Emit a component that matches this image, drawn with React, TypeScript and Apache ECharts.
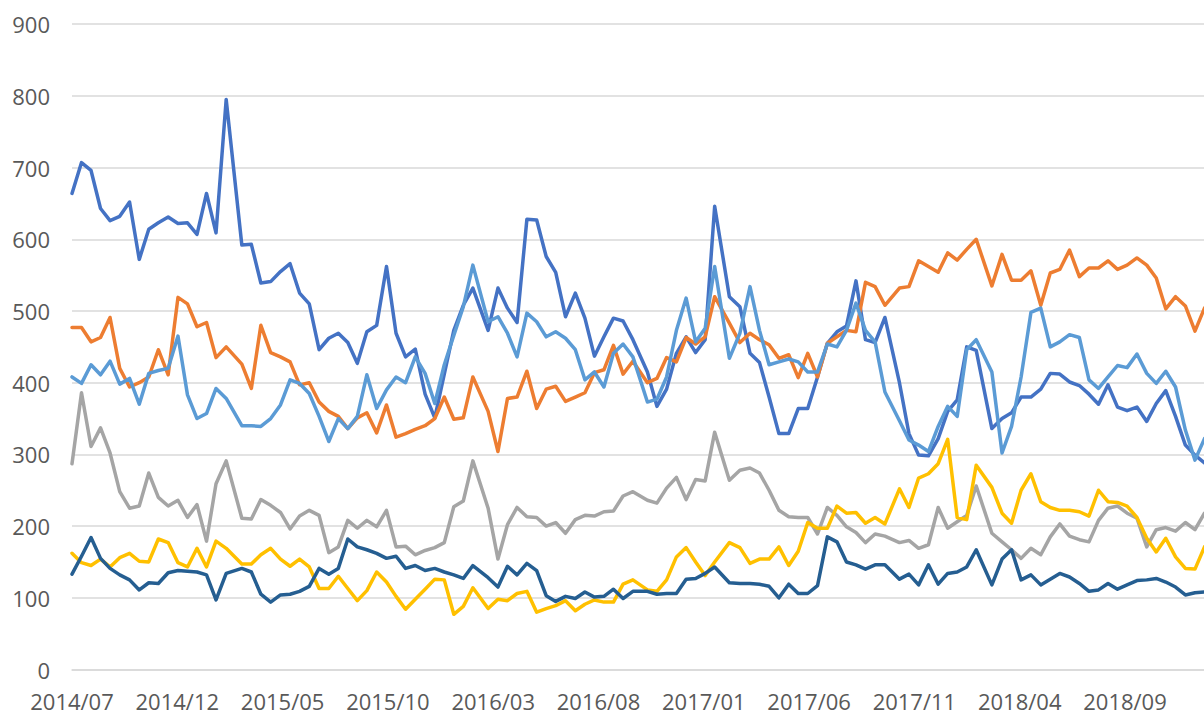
import React, { useEffect, useRef } from "react";
import * as echarts from "echarts";

const tickLabels = ["2014/07", "2014/12", "2015/05", "2015/10", "2016/03", "2016/08", "2017/01", "2017/06", "2017/11", "2018/04", "2018/09"];

const dates = [
  "2014-07-01", "2014-07-15", "2014-07-29", "2014-08-12", "2014-08-26", "2014-09-09", "2014-09-23", "2014-10-07", "2014-10-21", "2014-11-04", "2014-11-18", "2014-12-02", "2014-12-16", "2014-12-30", "2015-01-13", "2015-01-27", "2015-02-10",
  "2015-03-03", "2015-03-17", "2015-03-31", "2015-04-14", "2015-04-28", "2015-05-12", "2015-05-26", "2015-06-09", "2015-06-23", "2015-07-07", "2015-07-21", "2015-08-04", "2015-08-18", "2015-09-01", "2015-09-15", "2015-09-29", "2015-10-13", "2015-10-27", "2015-11-10", "2015-11-24", "2015-12-08", "2015-12-22", "2016-01-05", "2016-01-19", "2016-02-02",
  "2016-02-23", "2016-03-08", "2016-03-22", "2016-04-05", "2016-04-19", "2016-05-03", "2016-05-17", "2016-05-31", "2016-06-14", "2016-06-28", "2016-07-12", "2016-07-26", "2016-08-09", "2016-08-23", "2016-09-06", "2016-09-20",
  "2016-10-11", "2016-10-25", "2016-11-08", "2016-11-22", "2016-12-06", "2016-12-20", "2017-01-03", "2017-01-17",
  "2017-02-07", "2017-02-21", "2017-03-07", "2017-03-21", "2017-04-04", "2017-04-18", "2017-05-02", "2017-05-16", "2017-05-30", "2017-06-13", "2017-06-27", "2017-07-11", "2017-07-25", "2017-08-08", "2017-08-22", "2017-09-05", "2017-09-19",
  "2017-10-10", "2017-10-24", "2017-11-07", "2017-11-21", "2017-12-05", "2017-12-19", "2018-01-02", "2018-01-16", "2018-01-30",
  "2018-02-20", "2018-03-06", "2018-03-20", "2018-04-03", "2018-04-17", "2018-05-01", "2018-05-15", "2018-05-29", "2018-06-12", "2018-06-26", "2018-07-10", "2018-07-24", "2018-08-07", "2018-08-21", "2018-09-04", "2018-09-18", "2018-10-02", "2018-10-16", "2018-10-30", "2018-11-13", "2018-11-27", "2018-12-11", "2018-12-25",
];

const series1 = [
  664, 707, 696, 643, 626, 632, 652, 572, 614, 623, 631, 622, 623, 607, 664, 609, 795,
  592, 593, 539, 541, 555, 566, 525,
  510, 446, 462, 469, 456, 427, 471, 480, 562, 469, 436, 447, 384, 351, 412, 473, 508, 532,
  473, 532, 504, 484, 628, 627, 576, 554, 492, 525, 490, 437,
  464, 490, 486, 460, 415, 367, 391, 441, 464, 442, 460, 646,
  520, 506, 441, 428, 380, 329, 329, 364, 364, 408, 455, 471, 479, 542, 460, 456, 491,
  400, 329, 299, 298, 322, 360, 376, 450, 445,
  336, 350, 358, 380, 380, 391, 413, 412, 401, 396, 384, 370, 397, 366, 361, 366, 346, 371, 389, 353, 313, 299, 288,
];

const series2 = [
  477, 477, 457, 463, 491, 420, 394, 400, 408, 446, 411, 519, 510, 478, 484, 435, 450,
  426, 392, 480, 442, 436, 429, 397,
  400, 373, 360, 353, 336, 351, 358, 330, 369, 324, 329, 335, 340, 350, 380, 349, 351, 408,
  360, 304, 378, 380, 416, 364, 391, 395, 374, 380, 386, 414,
  418, 452, 412, 430, 400, 406, 435, 429, 463, 454, 464, 520,
  483, 456, 469, 460, 453, 434, 439, 407, 441, 408, 455, 464, 473, 471, 540, 534, 508,
  532, 534, 570, 562, 554, 581, 571, 586, 600,
  535, 579, 543, 543, 556, 508, 553, 558, 585, 548, 560, 560, 570, 558, 564, 574, 564, 546, 503, 520, 507, 472, 504,
];

const series3 = [
  287, 386, 311, 337, 302, 248, 225, 228, 274, 240, 228, 236, 212, 230, 179, 259, 291,
  211, 210, 237, 229, 219, 196, 214,
  222, 215, 163, 171, 208, 197, 208, 199, 222, 171, 172, 160, 166, 170, 177, 227, 235, 291,
  225, 154, 202, 226, 213, 212, 200, 205, 190, 209, 215, 214,
  220, 221, 242, 248, 236, 232, 253, 268, 237, 265, 263, 331,
  264, 278, 281, 274, 250, 222, 213, 212, 212, 189, 226, 215, 199, 191, 177, 189, 186,
  177, 180, 169, 174, 226, 197, 206, 215, 256,
  190, 178, 167, 155, 169, 160, 185, 203, 186, 181, 178, 208, 225, 228, 218, 211, 171, 195, 198, 193, 205, 195, 218,
];

const series4 = [
  162, 149, 145, 154, 143, 156, 162, 151, 150, 182, 177, 149, 143, 169, 143, 179, 169,
  147, 147, 160, 169, 154, 144, 154,
  143, 113, 113, 130, 113, 96, 110, 136, 122, 102, 84, 98, 112, 126, 125, 77, 88, 114,
  85, 98, 96, 106, 109, 80, 85, 89, 96, 82, 91, 97,
  94, 94, 119, 125, 111, 109, 125, 157, 170, 150, 131, 150,
  177, 170, 148, 154, 154, 171, 145, 165, 205, 197, 197, 228, 218, 219, 204, 212, 203,
  252, 226, 267, 273, 287, 321, 212, 209, 285,
  254, 218, 204, 250, 273, 234, 226, 222, 222, 220, 214, 250, 234, 233, 228, 212, 183, 164, 183, 157, 141, 140, 171,
];

const series5 = [
  408, 399, 425, 411, 430, 398, 406, 370, 413, 417, 420, 465, 383, 350, 357, 392, 378,
  340, 340, 339, 350, 369, 404, 399,
  385, 353, 318, 350, 336, 353, 411, 364, 390, 408, 400, 436, 413, 371, 425, 466, 506, 564,
  485, 492, 469, 436, 497, 485, 464, 471, 462, 446, 404, 415,
  394, 441, 454, 436, 373, 377, 408, 473, 518, 457, 476, 562,
  434, 469, 534, 473, 425, 429, 433, 429, 415, 415, 454, 450, 473, 511, 473, 457, 387,
  347, 320, 313, 304, 339, 367, 353, 446, 460,
  415, 302, 339, 408, 498, 504, 450, 457, 467, 463, 404, 392, 408, 424, 421, 440, 413, 399, 416, 394, 334, 292, 322,
];

const series6 = [
  133, 158, 184, 155, 141, 132, 125, 111, 121, 120, 135, 138, 137, 136, 132, 97, 134,
  141, 136, 105, 94, 104, 105, 109,
  116, 141, 133, 141, 182, 171, 167, 162, 155, 158, 141, 145, 138, 141, 136, 132, 127, 145,
  128, 115, 144, 132, 148, 138, 103, 95, 102, 99, 108, 101,
  102, 112, 99, 109, 109, 105, 106, 106, 126, 127, 134, 143,
  121, 120, 120, 119, 116, 100, 119, 106, 106, 117, 185, 178, 150, 146, 140, 146, 146,
  126, 133, 118, 146, 119, 134, 136, 143, 167,
  118, 154, 167, 125, 132, 118, 126, 134, 129, 120, 109, 111, 120, 112, 118, 124, 125, 127, 122, 115, 104, 107, 108,
];

const seriesList = [
  { name: "Series 1", values: series1, color: "#4472C4" },
  { name: "Series 2", values: series2, color: "#ED7D31" },
  { name: "Series 3", values: series3, color: "#A5A5A5" },
  { name: "Series 4", values: series4, color: "#FFC000" },
  { name: "Series 5", values: series5, color: "#5B9BD5" },
  { name: "Series 6", values: series6, color: "#255E91" },
];

// months elapsed since 2014-07-01 (fractional)
function toMonths(s: string): number {
  const [y, m, d] = s.split("-").map(Number);
  const dim = new Date(y, m, 0).getDate();
  return (y - 2014) * 12 + (m - 7) + (d - 1) / dim;
}

const FONT = "'Open Sans', 'Liberation Sans', sans-serif";
const CHART_W = 1220;

export default function App() {
  const ref = useRef<HTMLDivElement>(null);
  useEffect(() => {
    const el = ref.current;
    if (!el) return;
    const chart = echarts.init(el, undefined, { renderer: "svg" });
    const xs = dates.map(toMonths);
    const option = {
      animation: false,
      backgroundColor: "#ffffff",
      grid: { left: 72, right: 0, top: 24.2, bottom: 44.5, containLabel: false },
      xAxis: {
        type: "value",
        min: 0,
        max: (CHART_W - 72) / 21.06,
        interval: 5,
        axisLine: { show: true, onZero: true, lineStyle: { color: "#d9d9d9", width: 1.5 } },
        axisTick: { show: false },
        splitLine: { show: false },
        axisLabel: {
          show: true,
          margin: 20,
          color: "#595959",
          fontFamily: FONT,
          fontSize: 22,
          showMinLabel: true,
          showMaxLabel: false,
          formatter: (v: number) => {
            const r = Math.round(v);
            if (Math.abs(v - r) > 1e-6 || r % 5 !== 0) return "";
            return tickLabels[r / 5] ?? "";
          },
        },
      },
      yAxis: {
        type: "value",
        min: 0,
        max: 900,
        interval: 100,
        axisLine: { show: false },
        axisTick: { show: false },
        splitLine: { show: true, lineStyle: { color: "#d9d9d9", width: 1.5 } },
        axisLabel: { margin: 22, color: "#595959", fontFamily: FONT, fontSize: 22 },
      },
      series: seriesList.map((s) => ({
        name: s.name,
        type: "line",
        data: s.values.map((v, i) => [xs[i], v]),
        showSymbol: false,
        symbol: "none",
        smooth: false,
        clip: true,
        lineStyle: { color: s.color, width: 3.5, cap: "round", join: "round" },
        itemStyle: { color: s.color },
      })),
    };
    chart.setOption(option as any);
    return () => chart.dispose();
  }, []);
  return (
    <div style={{ position: "fixed", left: 0, top: 0, width: 1204, height: 714, overflow: "hidden", background: "#fff" }}>
      <div ref={ref} style={{ width: CHART_W, height: 714 }} />
    </div>
  );
}
